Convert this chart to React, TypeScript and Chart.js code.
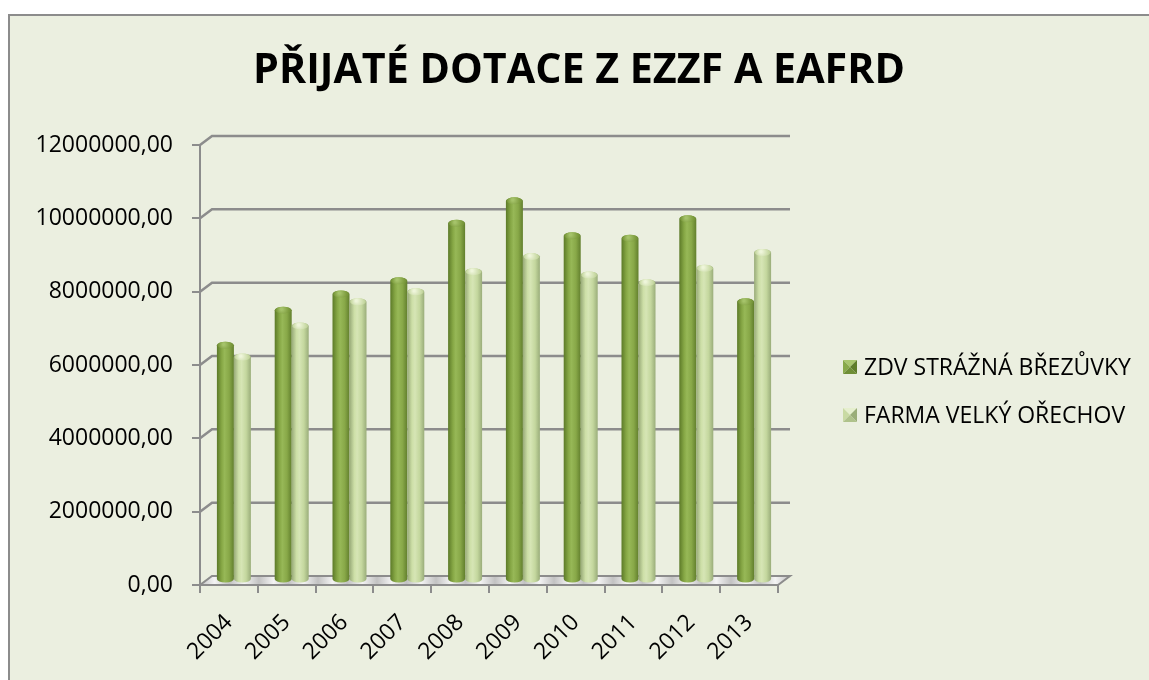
import React, { useEffect, useRef } from "react";
import { Chart, registerables } from "chart.js";

Chart.register(...registerables);

const TITLE = "PŘIJATÉ DOTACE Z EZZF A EAFRD";
const YEARS = ["2004", "2005", "2006", "2007", "2008", "2009", "2010", "2011", "2012", "2013"];
const SERIES_NAMES = ["ZDV STRÁŽNÁ BŘEZŮVKY", "FARMA VELKÝ OŘECHOV"];
const ZDV = [6400000, 7360000, 7800000, 8160000, 9730000, 10340000, 9390000, 9320000, 9850000, 7590000];
const FARMA = [6080000, 6930000, 7590000, 7860000, 8410000, 8820000, 8320000, 8110000, 8500000, 8930000];
const Y_MIN = 0;
const Y_MAX = 12000000;
const Y_STEP = 2000000;

const BG = "#ebefe0";
const AXIS = "#8c8c8c";
const FONT = '"Open Sans", "Noto Sans", sans-serif';

// depth of the 3D box
const DEPTH_X = 12;
const DEPTH_Y = 9;

const PALETTES = [
  {
    body: ["#5c7a28", "#86a745", "#97b857", "#88a848", "#627f2d"],
    dome: ["#6e8c35", "#a5c36a", "#7c9b3d"],
    marker: ["#a9c66e", "#88a94a", "#5f7d2a", "#6f8e36"],
  },
  {
    body: ["#98aa78", "#cddfa7", "#d6e5b5", "#c4d79e", "#9aad7a"],
    dome: ["#b7ca90", "#eef5da", "#c9daa5"],
    marker: ["#e6efce", "#c9daa3", "#9aad78", "#afc28b"],
  },
];

function fmt(v: number): string {
  return v.toFixed(2).replace(".", ",");
}

const threeD = {
  id: "threeD",
  beforeDatasetsDraw(chart: any) {
    const { ctx, chartArea, scales } = chart;
    const y = scales.y;
    const { left, right, bottom } = chartArea;
    ctx.save();
    // floor
    const grad = ctx.createLinearGradient(left, 0, right + DEPTH_X, 0);
    const n = 40;
    for (let i = 0; i <= n; i++) {
      grad.addColorStop(i / n, i % 2 === 0 ? "#c2c2c2" : "#f4f4f4");
    }
    ctx.beginPath();
    ctx.moveTo(left, bottom);
    ctx.lineTo(right, bottom);
    ctx.lineTo(right + DEPTH_X, bottom - DEPTH_Y);
    ctx.lineTo(left + DEPTH_X, bottom - DEPTH_Y);
    ctx.closePath();
    ctx.fillStyle = grad;
    ctx.fill();
    ctx.strokeStyle = AXIS;
    ctx.lineWidth = 2;
    ctx.stroke();
    // back-wall gridlines
    for (let v = Y_MIN + Y_STEP; v <= Y_MAX; v += Y_STEP) {
      const py = y.getPixelForValue(v);
      ctx.beginPath();
      ctx.moveTo(left, py);
      ctx.lineTo(left + DEPTH_X, py - DEPTH_Y);
      ctx.lineTo(right + DEPTH_X, py - DEPTH_Y);
      ctx.strokeStyle = AXIS;
      ctx.lineWidth = 2.5;
      ctx.stroke();
    }
    ctx.restore();
  },
  beforeDatasetDraw() {
    return false;
  },
  afterDatasetsDraw(chart: any) {
    const { ctx } = chart;
    const dx = DEPTH_X / 2 - 1;
    const dy = -DEPTH_Y / 2 - 0.5;
    const metas = chart.data.datasets.map((_: any, i: number) => chart.getDatasetMeta(i));
    const count = chart.data.labels.length;
    ctx.save();
    for (let c = 0; c < count; c++) {
      metas.forEach((meta: any, di: number) => {
        const el = meta.data[c];
        if (!el) return;
        const pal = PALETTES[di];
        const w = el.width;
        const cx = el.x + dx;
        const topC = el.y + dy;
        const base = el.base + dy;
        const l = cx - w / 2;
        const r = cx + w / 2;
        const ry = 3.5;
        const g = ctx.createLinearGradient(l, 0, r, 0);
        const stops = [0, 0.28, 0.45, 0.72, 1];
        pal.body.forEach((col: string, k: number) => g.addColorStop(stops[k], col));
        ctx.beginPath();
        ctx.moveTo(l, base);
        ctx.lineTo(l, topC);
        ctx.ellipse(cx, topC, w / 2, ry, 0, Math.PI, 0, false);
        ctx.lineTo(r, base);
        ctx.ellipse(cx, base, w / 2, ry, 0, 0, Math.PI, false);
        ctx.closePath();
        ctx.fillStyle = g;
        ctx.fill();
        // dome highlight
        const dg = ctx.createRadialGradient(cx - w * 0.1, topC - 1, 1, cx, topC, w / 2);
        dg.addColorStop(0, pal.dome[1]);
        dg.addColorStop(0.7, pal.dome[2]);
        dg.addColorStop(1, pal.dome[0]);
        ctx.beginPath();
        ctx.ellipse(cx, topC, w / 2 - 0.5, ry, 0, 0, Math.PI * 2);
        ctx.fillStyle = dg;
        ctx.fill();
      });
    }
    ctx.restore();
  },
  afterDraw(chart: any) {
    const { ctx } = chart;
    ctx.save();
    // title
    ctx.fillStyle = "#000";
    ctx.textAlign = "center";
    ctx.textBaseline = "middle";
    ctx.font = `bold 40px ${FONT}`;
    const tw = ctx.measureText(TITLE).width;
    const size = Math.min(44, (40 * 652) / tw);
    ctx.font = `bold ${size}px ${FONT}`;
    ctx.fillText(TITLE, 579, 71);
    // legend
    const rows = [367, 415];
    SERIES_NAMES.forEach((name, i) => {
      const pal = PALETTES[i].marker;
      const bx = 843;
      const by = rows[i] - 7;
      const s = 14;
      const cxm = bx + s / 2;
      const cym = by + s / 2;
      const tris = [
        [[bx, by], [bx + s, by]],
        [[bx, by], [bx, by + s]],
        [[bx + s, by], [bx + s, by + s]],
        [[bx, by + s], [bx + s, by + s]],
      ];
      tris.forEach((t, k) => {
        ctx.beginPath();
        ctx.moveTo(t[0][0], t[0][1]);
        ctx.lineTo(t[1][0], t[1][1]);
        ctx.lineTo(cxm, cym);
        ctx.closePath();
        ctx.fillStyle = pal[k];
        ctx.fill();
      });
      ctx.fillStyle = "#000";
      ctx.textAlign = "left";
      ctx.textBaseline = "middle";
      ctx.font = `23px ${FONT}`;
      ctx.fillText(name, 864, rows[i] + 1);
    });
    ctx.restore();
  },
};

export default function App() {
  const ref = useRef<HTMLCanvasElement | null>(null);

  useEffect(() => {
    document.body.style.overflow = "hidden";
    const canvas = ref.current;
    if (!canvas) return;
    const chart = new Chart(canvas, {
      type: "bar",
      data: {
        labels: YEARS,
        datasets: [
          { label: SERIES_NAMES[0], data: ZDV, backgroundColor: "#8aab4a" },
          { label: SERIES_NAMES[1], data: FARMA, backgroundColor: "#c9dba3" },
        ],
      },
      options: {
        responsive: false,
        animation: false,
        devicePixelRatio: 1,
        layout: { padding: { left: 0, top: 145, right: 371, bottom: 0 } },
        datasets: { bar: { categoryPercentage: 0.588, barPercentage: 1 } },
        plugins: {
          legend: { display: false },
          title: { display: false },
          tooltip: { enabled: false },
        },
        scales: {
          x: {
            offset: true,
            grid: {
              display: true,
              offset: true,
              drawOnChartArea: false,
              drawTicks: true,
              tickLength: 8,
              color: AXIS,
              lineWidth: 2,
            },
            border: { display: true, color: AXIS, width: 2 },
            ticks: {
              minRotation: 45,
              maxRotation: 45,
              padding: 16,
              color: "#000",
              font: { family: FONT, size: 23 },
            },
            afterFit(scale: any) {
              scale.height = 95;
            },
          },
          y: {
            min: Y_MIN,
            max: Y_MAX,
            grid: {
              display: true,
              drawOnChartArea: false,
              drawTicks: true,
              tickLength: 8,
              color: AXIS,
              lineWidth: 2,
            },
            border: { display: true, color: AXIS, width: 2 },
            ticks: {
              stepSize: Y_STEP,
              padding: 19,
              color: "#000",
              font: { family: FONT, size: 23 },
              callback: (v: any) => fmt(Number(v)),
            },
            afterFit(scale: any) {
              scale.width = 200;
            },
          },
        },
      },
      plugins: [threeD],
    });
    return () => chart.destroy();
  }, []);

  return (
    <>
      <div
        style={{
          position: "fixed",
          left: 8,
          top: 14,
          width: 1200,
          height: 720,
          border: `2px solid ${AXIS}`,
          background: BG,
          boxSizing: "border-box",
        }}
      />
      <canvas
        ref={ref}
        width={1149}
        height={680}
        style={{ position: "fixed", left: 0, top: 0, width: 1149, height: 680, display: "block" }}
      />
    </>
  );
}
